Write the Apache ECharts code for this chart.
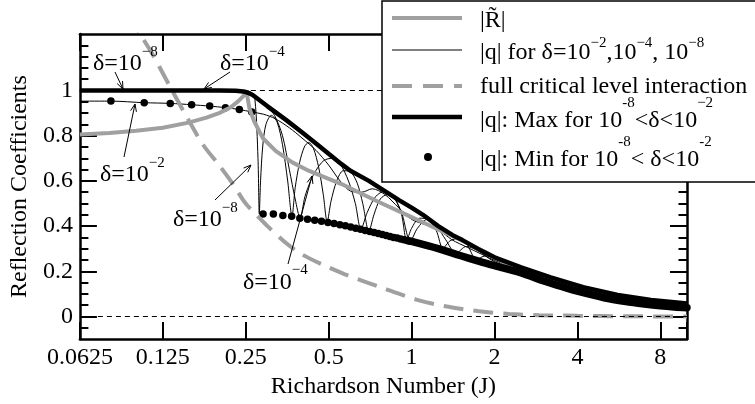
<!DOCTYPE html>
<html><head><meta charset="utf-8">
<script src="https://cdn.jsdelivr.net/npm/echarts@6/dist/echarts.min.js"></script>
<style>html,body{margin:0;padding:0;background:#fff}#c{width:755px;height:404px}</style>
</head><body><div id="c"></div>
<script>
// ---------- tick values / labels ----------
const xTickValues = [0.0625, 0.125, 0.25, 0.5, 1, 2, 4, 8];
const xTickLabels = ['0.0625', '0.125', '0.25', '0.5', '1', '2', '4', '8'];
const yMajorTicks = [0, 0.2, 0.4, 0.6, 0.8, 1];
const yMinorTicks = [-0.05, 0.05, 0.1, 0.15, 0.25, 0.3, 0.35, 0.45, 0.5, 0.55, 0.65, 0.7, 0.75, 0.85, 0.9, 0.95, 1.05, 1.1, 1.15, 1.2];
const yLabelValues = [0, 0.2, 0.4, 0.6, 0.8, 1];
const yLabelTexts = ['0', '0.2', '0.4', '0.6', '0.8', '1'];

// ---------- series values [J, value] ----------
const rTilde = [[0.0625,0.805],[0.08,0.812],[0.1,0.822],[0.125,0.835],[0.155,0.858],[0.18,0.88],[0.2,0.9],[0.22,0.925],[0.235,0.953],[0.245,0.975],[0.251,1.0],[0.258,0.92],[0.268,0.865],[0.288,0.79],[0.321,0.733],[0.369,0.682],[0.423,0.645],[0.485,0.616],[0.557,0.586],[0.75,0.51],[1.0,0.44],[1.3,0.375],[1.53,0.335],[1.85,0.285],[2.2,0.235],[2.6,0.2],[3.2,0.16],[4,0.122],[5,0.092],[6,0.075],[8,0.058],[10,0.048]];

const fullCritical = [[0.095,1.34],[0.104,1.246],[0.115,1.158],[0.131,1.03],[0.15,0.9],[0.175,0.76],[0.2,0.67],[0.225,0.585],[0.25,0.5],[0.3,0.4],[0.35,0.325],[0.4,0.275],[0.47,0.232],[0.57,0.188],[0.79,0.125],[1.04,0.075],[1.33,0.045],[1.76,0.023],[2.26,0.011],[2.9,0.006],[4,0.003],[6,0.001],[10,0.0]];

const qDelta2 = [[0.0625,0.953],[0.081,0.953],[0.107,0.946],[0.133,0.943],[0.159,0.937],[0.185,0.931],[0.211,0.924],[0.237,0.916],[0.263,0.905],[0.29,0.895],[0.32,0.875],[0.36,0.835],[0.4,0.79],[0.45,0.735],[0.5,0.67],[0.55,0.6],[0.6,0.555],[0.66,0.55],[0.72,0.565],[0.8,0.54],[0.9,0.48],[1.0,0.43],[1.1,0.41],[1.25,0.385],[1.4,0.34],[1.6,0.305],[1.8,0.275],[2.0,0.248],[2.5,0.205],[3.2,0.158],[4,0.12],[6,0.072],[8,0.054],[10,0.046]];

const qDelta4 = [[0.0625,1.0],[0.25,0.998],[0.262,0.99],[0.28,0.955],[0.3,0.925],[0.318,0.89],[0.34,0.8],[0.36,0.65],[0.378,0.52],[0.394,0.435],[0.41,0.53],[0.43,0.6],[0.449,0.645],[0.48,0.69],[0.515,0.7],[0.55,0.675],[0.59,0.6],[0.625,0.5],[0.655,0.386],[0.69,0.46],[0.74,0.53],[0.8,0.555],[0.86,0.53],[0.92,0.46],[0.99,0.333],[1.05,0.39],[1.14,0.43],[1.24,0.395],[1.33,0.34],[1.45,0.28],[1.58,0.31],[1.75,0.29],[1.95,0.25],[2.2,0.222],[2.6,0.195],[3.2,0.16],[4,0.12],[6,0.072],[8,0.054],[10,0.046]];

const qDelta8 = [[0.0625,1.0],[0.25,0.998],[0.262,0.99],[0.27,0.96],[0.277,0.7],[0.28,0.454],[0.283,0.6],[0.288,0.75],[0.296,0.85],[0.31,0.89],[0.325,0.86],[0.34,0.76],[0.355,0.6],[0.368,0.444],[0.378,0.57],[0.392,0.68],[0.408,0.75],[0.423,0.77],[0.44,0.745],[0.46,0.66],[0.478,0.54],[0.494,0.42],[0.51,0.51],[0.535,0.6],[0.565,0.645],[0.6,0.64],[0.635,0.59],[0.665,0.5],[0.7,0.377],[0.73,0.45],[0.77,0.52],[0.82,0.54],[0.87,0.52],[0.92,0.45],[0.96,0.337],[1.0,0.39],[1.07,0.435],[1.15,0.43],[1.23,0.38],[1.3,0.302],[1.38,0.335],[1.48,0.345],[1.58,0.325],[1.72,0.253],[1.85,0.268],[2.0,0.258],[2.15,0.235],[2.3,0.215],[2.6,0.192],[3.2,0.155],[4,0.118],[6,0.07],[8,0.052],[10,0.045]];

const qMax = [[0.0625,1.0],[0.2,1.0],[0.23,0.999],[0.245,0.996],[0.255,0.99],[0.265,0.98],[0.3,0.93],[0.35,0.87],[0.4,0.815],[0.45,0.765],[0.5,0.72],[0.557,0.674],[0.6,0.645],[0.7,0.6],[0.8,0.555],[0.9,0.515],[1.0,0.482],[1.1,0.45],[1.25,0.4],[1.41,0.36],[1.53,0.338],[1.75,0.298],[2.0,0.262],[2.5,0.217],[3.2,0.173],[4.2,0.13],[5.6,0.095],[7.4,0.073],[10,0.058]];

const qMinDots = [[0.081,0.953],[0.107,0.946],[0.133,0.943],[0.159,0.937],[0.185,0.931],[0.211,0.924],[0.237,0.916],[0.263,0.905],[0.289,0.454],[0.315,0.454],[0.341,0.447],[0.367,0.444],[0.393,0.435],[0.419,0.43],[0.445,0.426],[0.471,0.421],[0.497,0.416],[0.523,0.411],[0.549,0.406],[0.575,0.401],[0.601,0.396],[0.627,0.391],[0.653,0.386],[0.679,0.381],[0.705,0.376],[0.731,0.372],[0.757,0.367],[0.783,0.363],[0.809,0.358],[0.835,0.354],[0.861,0.35],[0.887,0.347],[0.913,0.343],[0.939,0.34],[0.965,0.336],[0.991,0.333]];

const qMinBand = [[0.965,0.336],[1.0,0.332],[1.25,0.3],[1.5,0.27],[1.75,0.245],[2.0,0.225],[2.5,0.193],[3.0,0.158],[3.5,0.133],[4.0,0.112],[5.0,0.083],[6.0,0.066],[7.0,0.055],[8.0,0.047],[9.0,0.042],[10,0.039]];

// ---------- text ----------
const legendTexts = ['|R\u0303|', '|q| for δ=10{s|\u22122},10{s|\u22124}, 10{s|\u22128}', 'full critical level interaction', '|q|: Max for 10{s|-8}<δ<10{s|\u22122}', '|q|: Min for 10{s|-8}< δ<10{s|-2}'];
const annotTexts = ['δ=10{s|\u22128}', 'δ=10{s|\u22124}', 'δ=10{s|\u22122}', 'δ=10{s|\u22128}', 'δ=10{s|\u22124}'];

const FONT = 'Liberation Serif';
const GRAY = '#a0a0a0';

function fmtX(v) {
  for (let i = 0; i < xTickValues.length; i++) {
    if (Math.abs(Math.log2(v / xTickValues[i])) < 0.01) return xTickLabels[i];
  }
  return '';
}
function fmtY(v) {
  for (let i = 0; i < yLabelValues.length; i++) {
    if (Math.abs(v - yLabelValues[i]) < 1e-6) return yLabelTexts[i];
  }
  return '';
}

const chart = echarts.init(document.getElementById('c'), null, {renderer: 'canvas'});

const xBase = {
  type: 'log', logBase: 2, min: 0.0625, max: 10, gridIndex: 0,
  splitLine: {show: false}, minorTick: {show: false},
  axisLine: {show: true, onZero: false, lineStyle: {color: '#000', width: 2.5}},
  axisTick: {show: true, inside: true, length: 17, lineStyle: {color: '#000', width: 2}}
};
const yBase = {
  type: 'value', min: -0.1, max: 1.25, gridIndex: 0,
  splitLine: {show: false}, axisLabel: {show: false}
};
const majorTick = {show: true, inside: true, length: 17, customValues: yMajorTicks, lineStyle: {color: '#000', width: 2}};
const minorTick = {show: true, inside: true, length: 8.5, customValues: yMinorTicks, lineStyle: {color: '#000', width: 2}};
const frameLine = {show: true, onZero: false, lineStyle: {color: '#000', width: 2.5}};

function supText(x, y, txt, lh, z) {
  return {
    type: 'text', x: x, y: y, z: z || 50,
    style: {
      text: txt, fontFamily: FONT, fontSize: 24, fill: '#000', lineHeight: lh,
      align: 'left', verticalAlign: 'middle',
      rich: {s: {fontFamily: FONT, fontSize: 15, lineHeight: 14, verticalAlign: 'top', fill: '#000'}}
    }
  };
}
function arrow(x1, y1, x2, y2) {
  const a = Math.atan2(y2 - y1, x2 - x1), L = 8, h = 0.38;
  return [
    {type: 'line', z: 50, shape: {x1: x1, y1: y1, x2: x2, y2: y2}, style: {stroke: '#000', lineWidth: 1}},
    {type: 'polyline', z: 50, shape: {points: [[x2 - L * Math.cos(a - h), y2 - L * Math.sin(a - h)], [x2, y2], [x2 - L * Math.cos(a + h), y2 - L * Math.sin(a + h)]]}, style: {stroke: '#000', lineWidth: 1, fill: null}}
  ];
}

const graphics = [].concat(
  [supText(93, 64, annotTexts[0], 38), supText(220, 64, annotTexts[1], 38), supText(100, 175, annotTexts[2], 38),
   supText(173, 220, annotTexts[3], 38), supText(243, 283, annotTexts[4], 40)],
  arrow(115, 72, 123, 89), arrow(230, 72, 204, 89), arrow(124, 157, 135, 104),
  arrow(215, 200, 251, 165), arrow(288, 264, 312, 176),
  [
    {type: 'rect', z: 100, shape: {x: 382, y: 1, width: 380, height: 181}, style: {fill: '#fff', stroke: '#000', lineWidth: 1.5}},
    {type: 'line', z: 101, shape: {x1: 392, y1: 18, x2: 462, y2: 18}, style: {stroke: GRAY, lineWidth: 4}},
    {type: 'line', z: 101, shape: {x1: 392, y1: 50, x2: 462, y2: 50}, style: {stroke: '#000', lineWidth: 1}},
    {type: 'line', z: 101, shape: {x1: 392, y1: 86, x2: 462, y2: 86}, style: {stroke: GRAY, lineWidth: 4, lineDash: [20, 11]}},
    {type: 'line', z: 101, shape: {x1: 392, y1: 117, x2: 462, y2: 117}, style: {stroke: '#000', lineWidth: 4.5}},
    {type: 'circle', z: 101, shape: {cx: 428, cy: 157, r: 4}, style: {fill: '#000'}},
    supText(480, 21, legendTexts[0], 30, 101),
    supText(480, 53, legendTexts[1], 34, 101),
    supText(480, 87, legendTexts[2], 30, 101),
    supText(480, 121, legendTexts[3], 50, 101),
    supText(480, 160, legendTexts[4], 50, 101)
  ]
);

const option = {
  animation: false,
  backgroundColor: '#fff',
  textStyle: {fontFamily: FONT},
  grid: {left: 73, right: 68, top: 34, bottom: 63, containLabel: false},
  xAxis: [
    Object.assign({}, xBase, {
      position: 'bottom',
      axisLabel: {show: true, interval: 0, formatter: fmtX, fontFamily: FONT, fontSize: 24, color: '#000', margin: 7, showMinLabel: true, showMaxLabel: true, hideOverlap: false},
      name: 'Richardson Number (J)', nameLocation: 'middle', nameGap: 33,
      nameTextStyle: {fontFamily: FONT, fontSize: 24, color: '#000'}
    }),
    Object.assign({}, xBase, {position: 'top', axisLabel: {show: false}})
  ],
  yAxis: [
    Object.assign({}, yBase, {
      position: 'left', axisLine: frameLine, axisTick: majorTick,
      axisLabel: {show: true, customValues: yLabelValues, formatter: fmtY, fontFamily: FONT, fontSize: 24, color: '#000', margin: 7},
      name: 'Reflection Coefficients', nameLocation: 'middle', nameGap: 35,
      nameTextStyle: {fontFamily: FONT, fontSize: 24, color: '#000'}
    }),
    Object.assign({}, yBase, {position: 'left', axisLine: {show: false}, axisTick: minorTick}),
    Object.assign({}, yBase, {position: 'right', axisLine: frameLine, axisTick: majorTick}),
    Object.assign({}, yBase, {position: 'right', axisLine: {show: false}, axisTick: minorTick})
  ],
  series: [
    {name: 'q delta 1e-2', type: 'line', data: qDelta2, symbol: 'none', smooth: 0.3, lineStyle: {color: '#000', width: 1},
     markLine: {silent: true, symbol: ['none', 'none'], label: {show: false}, lineStyle: {color: '#000', width: 1, type: [5, 4]},
       data: [{yAxis: 0}, {yAxis: 1}]}},
    {name: 'q delta 1e-4', type: 'line', data: qDelta4, symbol: 'none', smooth: 0.3, lineStyle: {color: '#000', width: 1}},
    {name: 'q delta 1e-8', type: 'line', data: qDelta8, symbol: 'none', smooth: 0.3, lineStyle: {color: '#000', width: 1}},
    {name: 'R tilde', type: 'line', data: rTilde, symbol: 'none', smooth: false, lineStyle: {color: GRAY, width: 4}},
    {name: 'full critical level interaction', type: 'line', data: fullCritical, symbol: 'none', smooth: 0.3, lineStyle: {color: GRAY, width: 4, type: [20, 10]}},
    {name: 'q max', type: 'line', data: qMax, symbol: 'none', smooth: false, lineStyle: {color: '#000', width: 4.5}},
    {name: 'q min', type: 'scatter', data: qMinDots, symbol: 'circle', symbolSize: 7.5, itemStyle: {color: '#000', opacity: 1}},
    {name: 'q min band', type: 'line', data: qMinBand, symbol: 'none', smooth: 0.3, clip: false, lineStyle: {color: '#000', width: 7.5, cap: 'round'}}
  ],
  graphic: graphics
};
chart.setOption(option);
</script>
</body></html>
